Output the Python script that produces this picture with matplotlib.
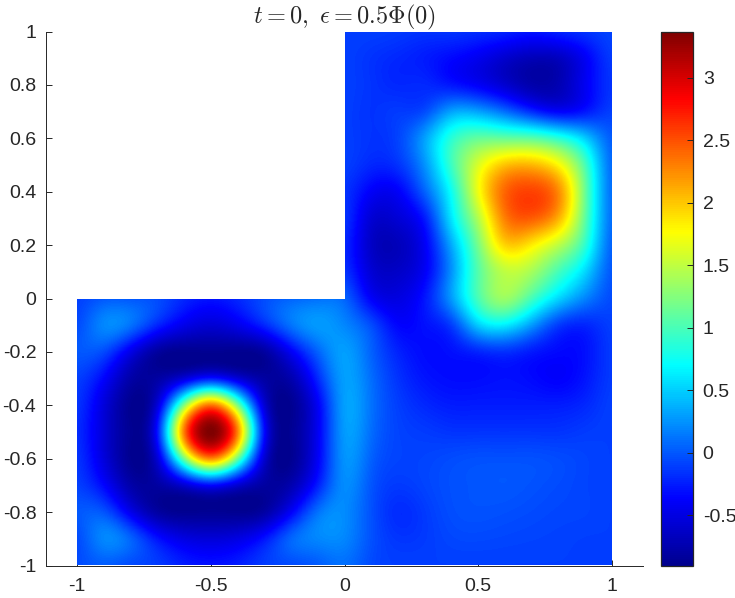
import numpy as np
import matplotlib
matplotlib.use("Agg")
import matplotlib.pyplot as plt
from matplotlib.colors import LinearSegmentedColormap
from matplotlib.patches import Polygon

# ---------------- DATA ----------------
x_ticks = [-1, -0.5, 0, 0.5, 1]
x_tick_labels = ["-1", "-0.5", "0", "0.5", "1"]
y_ticks = [-1, -0.8, -0.6, -0.4, -0.2, 0, 0.2, 0.4, 0.6, 0.8, 1]
y_tick_labels = ["-1", "-0.8", "-0.6", "-0.4", "-0.2", "0", "0.2", "0.4", "0.6", "0.8", "1"]
cbar_ticks = [-0.5, 0, 0.5, 1, 1.5, 2, 2.5, 3]
cbar_tick_labels = ["-0.5", "0", "0.5", "1", "1.5", "2", "2.5", "3"]
v_min = -0.9
v_max = 3.37

# samples every 0.1, x = 0 .. 1, y = 1 .. 0.1
z_upper = [
    [-0.10, -0.10, -0.12, -0.15, -0.15, -0.18, -0.22, -0.28, -0.22, -0.15, -0.08],
    [-0.10, -0.15, -0.20, -0.25, -0.33, -0.43, -0.58, -0.68, -0.65, -0.40, -0.12],
    [-0.10, -0.15, -0.20, -0.20, -0.28, -0.40, -0.58, -0.75, -0.72, -0.42, -0.15],
    [-0.10, -0.15, -0.12, -0.05, 0.30, 0.30, 0.08, -0.20, -0.38, -0.28, -0.10],
    [-0.10, -0.15, -0.08, 0.30, 0.85, 1.10, 1.10, 1.05, 0.85, 0.48, 0.02],
    [-0.10, -0.20, -0.15, 0.25, 0.95, 1.60, 2.00, 2.05, 1.77, 1.00, 0.08],
    [-0.15, -0.38, -0.38, 0.05, 0.75, 1.70, 2.40, 2.55, 2.25, 1.15, 0.10],
    [-0.15, -0.55, -0.55, -0.25, 0.60, 1.45, 2.30, 2.45, 2.10, 1.10, 0.10],
    [-0.20, -0.62, -0.68, -0.40, 0.35, 1.20, 1.95, 1.85, 1.50, 0.90, 0.05],
    [-0.15, -0.55, -0.62, -0.40, 0.25, 1.05, 1.50, 1.40, 1.00, 0.55, 0.00],
]

# samples every 0.1, x = -1 .. 1, y = 0 .. -1
z_lower = [
    [-0.10, 0.00, 0.00, -0.05, -0.20, -0.28, -0.20, -0.05, 0.05, 0.10, 0.05,
     -0.38, -0.50, -0.28, 0.28, 1.00, 1.35, 1.00, 0.55, 0.20, -0.05],
    [-0.05, 0.20, 0.12, -0.20, -0.45, -0.55, -0.45, -0.20, 0.12, 0.28, 0.20,
     -0.05, -0.35, -0.30, -0.10, 0.50, 0.65, 0.30, -0.10, -0.20, -0.10],
    [0.00, -0.05, -0.45, -0.80, -0.88, -0.87, -0.88, -0.80, -0.40, 0.05, 0.30,
     0.05, -0.22, -0.32, -0.30, -0.20, -0.15, -0.25, -0.33, -0.30, -0.12],
    [-0.10, -0.35, -0.76, -0.80, -0.55, -0.30, -0.55, -0.80, -0.74, -0.20, 0.30,
     0.10, -0.15, -0.28, -0.32, -0.32, -0.30, -0.33, -0.37, -0.28, -0.12],
    [-0.15, -0.52, -0.88, -0.55, 1.20, 2.30, 1.20, -0.55, -0.88, -0.40, 0.30,
     0.12, -0.10, -0.20, -0.25, -0.25, -0.25, -0.25, -0.25, -0.20, -0.10],
    [-0.18, -0.55, -0.87, -0.30, 2.30, 3.37, 2.30, -0.30, -0.87, -0.42, 0.28,
     0.10, -0.08, -0.12, -0.15, -0.15, -0.15, -0.15, -0.15, -0.12, -0.10],
    [-0.15, -0.52, -0.88, -0.55, 1.20, 2.30, 1.20, -0.55, -0.88, -0.40, 0.25,
     0.05, -0.08, -0.08, -0.05, -0.03, -0.03, -0.03, -0.05, -0.08, -0.10],
    [-0.10, -0.35, -0.76, -0.80, -0.55, -0.30, -0.55, -0.80, -0.74, -0.25, 0.22,
     0.00, -0.12, -0.08, -0.03, -0.01, 0.00, -0.02, -0.05, -0.08, -0.10],
    [0.00, -0.02, -0.45, -0.80, -0.88, -0.87, -0.88, -0.80, -0.40, 0.10, 0.22,
     -0.02, -0.18, -0.12, -0.04, -0.02, -0.03, -0.05, -0.07, -0.08, -0.10],
    [-0.05, 0.20, 0.05, -0.30, -0.50, -0.55, -0.50, -0.30, 0.05, 0.20, 0.20,
     -0.02, -0.14, -0.12, -0.07, -0.06, -0.07, -0.08, -0.09, -0.10, -0.10],
    [-0.05, 0.02, -0.05, -0.12, -0.25, -0.30, -0.25, -0.12, -0.05, 0.02, 0.10,
     -0.05, -0.10, -0.10, -0.10, -0.10, -0.10, -0.10, -0.10, -0.10, -0.10],
]

# outline of the L shaped domain
domain_x = [-1, 1, 1, 0, 0, -1]
domain_y = [-1, -1, 1, 1, 0, 0]
# --------------------------------------

plt.rcParams["font.family"] = ["Liberation Sans", "DejaVu Sans"]
plt.rcParams["mathtext.fontset"] = "cm"

TEXT_COLOR = "#262626"

# same anchors as the matlab jet map
jet = LinearSegmentedColormap.from_list("matlab_jet", [
    (0.0, (0, 0, 0.5625)),
    (0.125, (0, 0, 1)),
    (0.375, (0, 1, 1)),
    (0.625, (1, 1, 0)),
    (0.875, (1, 0, 0)),
    (1.0, (0.5, 0, 0)),
], N=256)


def spline_prefilter(a):
    # agg's bicubic is a cubic b-spline, solve for coefficients so it goes through the samples
    n = a.shape[0]
    m = (np.eye(n) * 4 + np.eye(n, k=1) + np.eye(n, k=-1)) / 6.0
    m[0, 0] = m[-1, -1] = 5 / 6.0
    return np.linalg.solve(m, a)


# the upper left quadrant is clipped away, pad it so the resampling has values there
upper = np.array(z_upper)
pad = np.repeat(upper[:, :1], 10, axis=1)
z = np.vstack([np.hstack([pad, upper]), np.array(z_lower)])
z = np.pad(z, 3, mode="edge")
coef = spline_prefilter(spline_prefilter(z).T).T

fig = plt.figure(figsize=(7.35, 5.98), dpi=100)
W, H = 735.0, 598.0
ax = fig.add_axes([46 / W, 1 - 565.5 / H, 597 / W, 534 / H])

im = ax.imshow(coef, extent=[-1.35, 1.35, -1.35, 1.35], origin="upper", cmap=jet,
               vmin=v_min, vmax=v_max, interpolation="bicubic",
               interpolation_stage="data", aspect="auto", zorder=1)
clip = Polygon(np.column_stack([domain_x, domain_y]), closed=True, transform=ax.transData)
im.set_clip_path(clip)

ax.set_xlim(-1.116, 1.116)
ax.set_ylim(-1, 1)
ax.set_xticks(x_ticks)
ax.set_xticklabels(x_tick_labels)
ax.set_yticks(y_ticks)
ax.set_yticklabels(y_tick_labels)
ax.set_axisbelow(True)
ax.tick_params(direction="in", length=4.5, width=0.7, color=TEXT_COLOR,
               labelcolor=TEXT_COLOR, labelsize=14)
ax.tick_params(axis="x", pad=9)
ax.tick_params(axis="y", pad=7)
ax.spines["top"].set_visible(False)
ax.spines["right"].set_visible(False)
for side in ["left", "bottom"]:
    ax.spines[side].set_linewidth(0.7)
    ax.spines[side].set_color(TEXT_COLOR)
    ax.spines[side].set_zorder(0.5)

ax.set_title(r"$t=0,\ \epsilon=0.5\Phi(0)$", fontsize=17.5, color=TEXT_COLOR, x=0.5, pad=3)

cax = fig.add_axes([661 / W, 1 - 565.5 / H, 32 / W, 534 / H])
cbar = fig.colorbar(im, cax=cax)
cbar.set_ticks(cbar_ticks)
cbar.set_ticklabels(cbar_tick_labels)
cbar.ax.tick_params(direction="in", length=4, width=0.7, color=TEXT_COLOR,
                    labelcolor=TEXT_COLOR, labelsize=14, pad=7)
cbar.outline.set_linewidth(0.9)
cbar.outline.set_edgecolor(TEXT_COLOR)

fig.savefig("out.png", dpi=100)
